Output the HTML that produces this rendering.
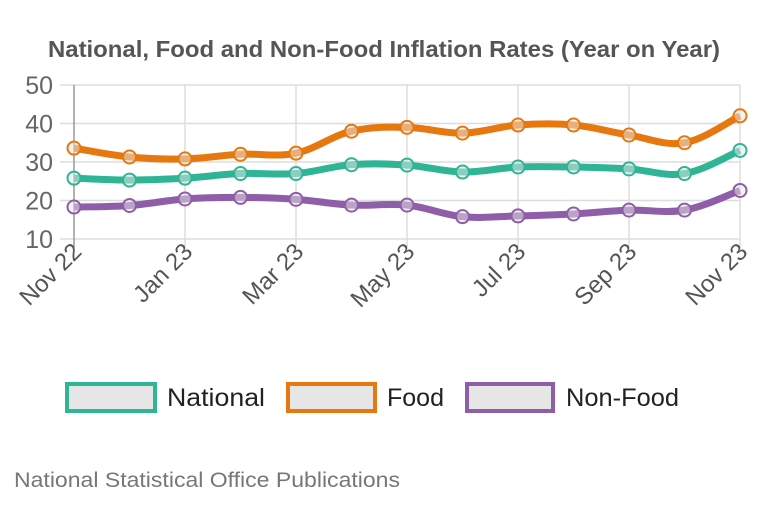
<!DOCTYPE html>
<html><head><meta charset="utf-8"><style>
body{margin:0;background:#fff;font-family:"Liberation Sans",sans-serif;}
svg text{font-family:"Liberation Sans",sans-serif;}
</style></head><body>
<svg width="768" height="511" viewBox="0 0 768 511">
<text x="384" y="57" text-anchor="middle" font-size="23" font-weight="bold" fill="#555" textLength="672" lengthAdjust="spacingAndGlyphs">National, Food and Non-Food Inflation Rates (Year on Year)</text>
<g id="grid"></g><g id="series"></g><g id="xlabels"></g>
<g>
<rect x="67" y="384" width="88" height="27" fill="#e6e6e6" stroke="#2fb596" stroke-width="4"/>
<text x="167" y="406" font-size="25" fill="#222" textLength="98" lengthAdjust="spacingAndGlyphs">National</text>
<rect x="288" y="384" width="87" height="27" fill="#e6e6e6" stroke="#e6780f" stroke-width="4"/>
<text x="387" y="406" font-size="25" fill="#222" textLength="57" lengthAdjust="spacingAndGlyphs">Food</text>
<rect x="467" y="384" width="86" height="27" fill="#e6e6e6" stroke="#8e5ea8" stroke-width="4"/>
<text x="566" y="406" font-size="25" fill="#222" textLength="113" lengthAdjust="spacingAndGlyphs">Non-Food</text>
</g>
<text x="14" y="487" font-size="21" fill="#777" textLength="386" lengthAdjust="spacingAndGlyphs">National Statistical Office Publications</text>
</svg>
<script>
const months=["Nov 22","Dec 22","Jan 23","Feb 23","Mar 23","Apr 23","May 23","Jun 23","Jul 23","Aug 23","Sep 23","Oct 23","Nov 23"];
const yTicks=[10,20,30,40,50];
const national=[25.8,25.3,25.8,27,27,29.3,29.2,27.4,28.7,28.7,28.2,27,33];
const food=[33.6,31.3,30.8,32,32.3,38,39,37.5,39.6,39.6,37,35,42];
const nonFood=[18.3,18.7,20.4,20.8,20.3,18.8,18.8,15.8,16,16.5,17.5,17.5,22.6];
const NS="http://www.w3.org/2000/svg";
const x0=74,x1=740,yTop=85,yBot=239;
function xs(i){return x0+(x1-x0)*i/(months.length-1);}
function ys(v){return yBot-(v-10)/40*(yBot-yTop);}
function mk(t,a,p){const e=document.createElementNS(NS,t);for(const k in a)e.setAttribute(k,a[k]);p.appendChild(e);return e;}
const g=document.getElementById('grid');
yTicks.forEach(v=>{
 const l=mk('line',{x1:60,x2:x1,y1:ys(v),y2:ys(v),stroke:'#ddd','stroke-width':1.5},g);
 
 
 const t=mk('text',{x:53,y:ys(v)+9,'text-anchor':'end','font-size':25,fill:'#666'},g);
 t.textContent=v;
 
 
});
months.forEach((m,i)=>{
 if(i%2)return;
 const l=mk('line',{x1:xs(i),x2:xs(i),y1:yTop,y2:yBot+8,stroke:i==0?'#999':'#ddd','stroke-width':1.5},g);
 
 
 const t=mk('text',{x:0,y:0,'text-anchor':'end','font-size':24,fill:'#555',transform:`translate(${xs(i)+9},${yBot+14}) rotate(-45)`},document.getElementById('xlabels'));
 t.textContent=m;
 
 
});
function path(d){const p=d.map((v,i)=>[xs(i),ys(v)]);let s=`M${p[0][0]},${p[0][1]}`;
 for(let i=0;i<p.length-1;i++){const a=p[i-1]||p[i],b=p[i],c=p[i+1],e=p[i+2]||c;const t=0.18;
 s+=` C${b[0]+(c[0]-a[0])*t},${b[1]+(c[1]-a[1])*t} ${c[0]-(e[0]-b[0])*t},${c[1]-(e[1]-b[1])*t} ${c[0]},${c[1]}`;}return s;}
const sg=document.getElementById('series');
[[food,'#e6780f','food'],[national,'#2fb596','national'],[nonFood,'#8e5ea8','non-food']].forEach(([d,c,n])=>{
 const p=mk('path',{d:path(d),fill:'none',stroke:c,'stroke-width':7},sg);
 
 
 d.forEach((v,i)=>{
  const ci=mk('circle',{cx:xs(i),cy:ys(v),r:6.5,fill:'#e8e8e8','fill-opacity':0.5,stroke:c,'stroke-width':2},sg);
  
  
 });
});
</script>
</body></html>
